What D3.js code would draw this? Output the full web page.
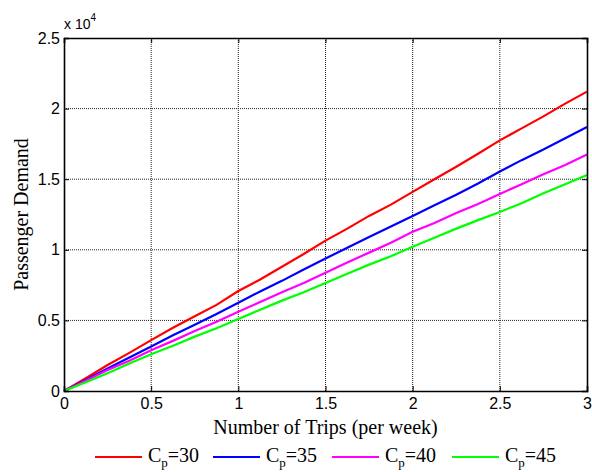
<!DOCTYPE html>
<html><head><meta charset="utf-8">
<script src="https://cdn.jsdelivr.net/npm/d3@7"></script>
<style>body{margin:0;background:#fff}</style>
</head><body>
<svg id="c" width="592" height="472"></svg>
<script>
const trips = [0, 0.125, 0.25, 0.375, 0.5, 0.625, 0.75, 0.875, 1, 1.125, 1.25, 1.375, 1.5, 1.625, 1.75, 1.875, 2, 2.125, 2.25, 2.375, 2.5, 2.625, 2.75, 2.875, 3];
const cp30 = [0, 900, 1840, 2700, 3600, 4480, 5300, 6100, 7080, 7900, 8800, 9700, 10650, 11500, 12400, 13200, 14100, 15000, 15880, 16800, 17750, 18600, 19450, 20350, 21200];
const cp35 = [0, 780, 1600, 2380, 3150, 3950, 4700, 5450, 6250, 7050, 7800, 8600, 9380, 10150, 10900, 11650, 12400, 13150, 13900, 14700, 15550, 16350, 17100, 17900, 18700];
const cp40 = [0, 720, 1490, 2150, 2880, 3550, 4250, 4900, 5620, 6300, 7000, 7650, 8380, 9100, 9800, 10500, 11280, 11900, 12600, 13250, 13950, 14650, 15350, 16000, 16750];
const cp45 = [0, 620, 1250, 1950, 2600, 3200, 3850, 4450, 5100, 5750, 6400, 7000, 7650, 8300, 8950, 9550, 10220, 10850, 11500, 12100, 12680, 13300, 14000, 14650, 15300];
const seriesNames = ["30", "35", "40", "45"];
const seriesColors = ["#ff0000", "#0000ff", "#ff00ff", "#00ff00"];
const seriesValues = [cp30, cp35, cp40, cp45];
const xTicks = [0, 0.5, 1, 1.5, 2, 2.5, 3];
const yTicks = [0, 5000, 10000, 15000, 20000, 25000];

const svg = d3.select("#c");
const L = 64, R = 587, T = 38, B = 391;
const x = d3.scaleLinear().domain([0, 3]).range([L, R]);
const y = d3.scaleLinear().domain([0, 25000]).range([B, T]);

// grid
const g = svg.append("g");
g.selectAll("line.vx").data(xTicks.slice(1, -1)).join("line")
  .attr("x1", d => x(d)).attr("x2", d => x(d)).attr("y1", T).attr("y2", B)
  .attr("stroke", "#222").attr("stroke-width", 1).attr("stroke-dasharray", "1,1");
g.selectAll("line.hy").data(yTicks.slice(1, -1)).join("line")
  .attr("y1", d => y(d)).attr("y2", d => y(d)).attr("x1", L).attr("x2", R)
  .attr("stroke", "#222").attr("stroke-width", 1).attr("stroke-dasharray", "1,1");

// lines
const line = d3.line().x((d, i) => x(trips[i])).y(d => y(d));
seriesValues.forEach((vals, k) => {
  svg.append("path").datum(vals).attr("d", line)
    .attr("fill", "none").attr("stroke", seriesColors[k]).attr("stroke-width", 2.2);
});

// axes
const fmt = d => String(d);
const xa = svg.append("g").attr("transform", `translate(0,${B})`)
  .call(d3.axisBottom(x).tickValues(xTicks).tickSize(-5).tickPadding(7).tickFormat(fmt));
const xaTop = svg.append("g").attr("transform", `translate(0,${T})`)
  .call(d3.axisTop(x).tickValues(xTicks).tickSize(-5).tickFormat(""));
const ya = svg.append("g").attr("transform", `translate(${L},0)`)
  .call(d3.axisLeft(y).tickValues(yTicks).tickSize(-5).tickPadding(4).tickFormat(d => fmt(d / 10000)));
const yaR = svg.append("g").attr("transform", `translate(${R},0)`)
  .call(d3.axisRight(y).tickValues(yTicks).tickSize(-5).tickFormat(""));
[xa, xaTop, ya, yaR].forEach(a => {
  a.select(".domain").attr("stroke", "#000").attr("stroke-width", 1.6);
  a.selectAll(".tick line").attr("stroke", "#000");
  a.selectAll("text").attr("font-family", "Liberation Sans, Arial, sans-serif").attr("font-size", 16).attr("fill", "#000");
});

// exponent
const ex = svg.append("text").attr("x", 64).attr("y", 29)
  .attr("font-family", "Liberation Sans, Arial, sans-serif").attr("font-size", 14).attr("fill", "#000");
ex.append("tspan").text("x 10");
ex.append("tspan").attr("dy", -8).attr("font-size", 10).text("4");

// axis titles
svg.append("text").attr("x", (L + R) / 2).attr("y", 434).attr("text-anchor", "middle")
  .attr("font-family", "Liberation Serif, Times New Roman, serif").attr("font-size", 20).text("Number of Trips (per week)");
svg.append("text").attr("transform", `translate(28,${(T + B) / 2}) rotate(-90)`).attr("text-anchor", "middle")
  .attr("font-family", "Liberation Serif, Times New Roman, serif").attr("font-size", 20).text("Passenger Demand");

// legend
const legX = [95, 213, 332, 452];
seriesNames.forEach((n, k) => {
  const lg = svg.append("g").attr("transform", `translate(${legX[k]},457)`);
  lg.append("line").attr("x1", 0).attr("x2", 47).attr("y1", 0).attr("y2", 0)
    .attr("stroke", seriesColors[k]).attr("stroke-width", 2.2);
  const t = lg.append("text").attr("x", 53).attr("y", 5)
    .attr("font-family", "Liberation Serif, Times New Roman, serif").attr("font-size", 20).attr("fill", "#000");
  t.append("tspan").text("C");
  t.append("tspan").attr("dy", 5).attr("font-size", 13).text("p");
  t.append("tspan").attr("dy", -5).text("=" + n);
});
</script>
</body></html>
